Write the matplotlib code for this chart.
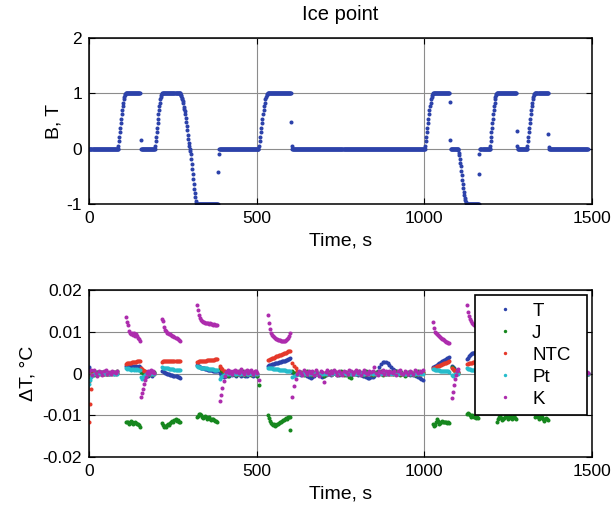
import numpy as np
import matplotlib
matplotlib.use('Agg')
import matplotlib.pyplot as plt

plt.rcParams['font.family'] = ['Liberation Sans', 'DejaVu Sans']
plt.rcParams['axes.unicode_minus'] = False

# ================= top panel: field B (T) =================
# flat plateaus: (start s, end s, level T), sampled every B_plateau_step s
B_plateaus = [(0, 86, 0), (110, 152, 1), (156, 196, 0), (219, 271, 1),
              (321, 385, -1), (388, 505, 0), (533, 602, 1), (606, 1001, 0),
              (1027, 1076, 1), (1079, 1100, 0), (1126, 1162, -1), (1166, 1195, 0),
              (1216, 1275, 1), (1278, 1305, 0), (1330, 1369, 1), (1372, 1488, 0)]
B_plateau_step = 1.5
ramp_up = [0.0, 0.05, 0.13, 0.21, 0.30, 0.38, 0.46, 0.54, 0.62, 0.70, 0.77,
           0.83, 0.89, 0.94, 0.97, 0.99]
ramp_down_full = [1.0, 0.99, 0.97, 0.95, 0.92, 0.89, 0.86, 0.82, 0.76, 0.72,
                  0.68, 0.62, 0.56, 0.48, 0.41, 0.33, 0.25, 0.17, 0.10, 0.05,
                  0.0, -0.04, -0.09, -0.18, -0.27, -0.37, -0.46, -0.55, -0.64,
                  -0.73, -0.81, -0.88, -0.94, -0.98]
ramp_down_half = [0.0, -0.03, -0.07, -0.12, -0.18, -0.25, -0.32, -0.40, -0.48,
                  -0.56, -0.64, -0.71, -0.78, -0.84, -0.89, -0.93, -0.96, -0.98]
# (start s, sampling s, values)
B_ramps = [(86, 1.5, ramp_up), (196, 1.4, ramp_up), (271, 1.5, ramp_down_full),
           (505, 1.75, ramp_up), (1001, 1.6, ramp_up), (1100, 1.5, ramp_down_half),
           (1195, 1.3, ramp_up), (1305, 1.55, ramp_up)]
B_single_t = [154, 386, 387, 603, 605, 1077, 1078, 1163, 1164, 1276, 1277, 1370, 1371]
B_single_v = [0.15, -0.42, -0.09, 0.48, 0.04, 0.84, 0.15, -0.45, -0.10, 0.32, 0.04, 0.27, 0.03]

# ================= bottom panel: dT (mK) per segment =================
seg_t0 = [0, 109, 156, 219, 323, 390, 533, 606, 1027, 1083, 1127, 1216, 1330, 1476]
seg_dt = [5, 3, 3, 3, 3, 4, 3, 5, 3, 3, 3, 3, 3, 4]

T_A = [1.6, 0.5, -0.3, 0.2, 0.4, -0.2, 0.1, 0.3, -0.1, 0.2, 0.0, 0.3, -0.2, 0.1, 0.2, -0.1, 0.3, 0.1]
J_A = [-1.0, -0.4, 0.2, -0.3, 0.1, 0.3, -0.2, 0.2, 0.4, 0.0, 0.3, -0.1, 0.2, 0.3, 0.1, 0.4, 0.2, 0.6]
NTC_A = [-1.8, -0.6, -0.2, 0.1, -0.1, 0.0, 0.2, -0.1, 0.1, 0.0, 0.1, -0.1, 0.0, 0.1, 0.0, 0.1, -0.1, 0.1]
Pt_A = [-2.6, -0.8, -0.3, 0.0, 0.2, -0.1, 0.1, 0.0, -0.2, 0.1, 0.0, 0.1, -0.1, 0.0, 0.1, 0.0, -0.1, 0.0]
K_A = [0.6, 0.9, -0.4, 0.8, 0.2, -0.5, 0.7, 0.3, -0.3, 0.5, 0.9, 0.0, 0.4, -0.2, 0.6, 0.3, 0.1, 0.5]

T_B = [1.8, 1.9, 1.7, 1.8, 1.6, 1.7, 1.8, 1.5, 1.7, 1.6, 1.8, 1.5, 1.6, 1.7, 1.5]
J_B = [-11.6, -11.5, -11.7, -12.0, -11.8, -11.4, -11.7, -12.1, -11.9, -11.5, -11.8, -12.2, -12.0, -12.4, -12.7]
NTC_B = [2.3, 2.4, 2.5, 2.5, 2.6, 2.6, 2.7, 2.7, 2.8, 2.8, 2.8, 2.9, 2.9, 2.9, 3.0]
Pt_B = [1.3, 1.1, 1.2, 1.0, 1.1, 0.9, 1.0, 1.1, 0.9, 1.0, 0.8, 1.0, 0.9, 0.8, 0.9]
K_B = [13.5, 12.4, 11.6, 10.2, 9.8, 9.5, 9.8, 9.3, 9.6, 9.1, 9.5, 8.9, 8.6, 8.3, 7.9]

T_C = [0.8, 0.6, 0.3, 0.5, 0.1, -0.3, 0.2, -0.5, 0.0, -0.2, 0.3, -0.6, -0.1, 0.2]
J_C = [0.3, 0.5, 0.2, -0.3, 0.1, 0.4, -0.2, 0.2, -0.4, 0.1, 0.3, -0.2, 0.0, 0.4]
NTC_C = [1.2, 1.0, 0.8, 0.6, 0.5, 0.4, 0.3, 0.2, 0.2, 0.1, 0.1, 0.0, 0.1, 0.0]
Pt_C = [-0.9, -1.2, -0.8, -0.5, -0.3, -0.2, -0.1, 0.0, 0.1, -0.1, 0.0, 0.1, 0.0, -0.1]
K_C = [-5.6, -4.6, -3.6, -2.5, -1.6, -0.8, 0.2, 0.6, -0.1, 0.5, 0.8, 0.3, 0.6, 0.1]

T_D = [0.6, 0.5, 0.3, 0.2, 0.1, 0.0, -0.1, -0.2, -0.3, -0.3, -0.4, -0.5, -0.5, -0.6, -0.7, -0.8, -0.9, -1.1]
J_D = [-11.8, -12.3, -12.8, -12.6, -12.9, -12.4, -12.1, -12.3, -11.8, -11.6, -11.4, -11.6, -11.2, -11.0, -11.3, -11.2, -11.5, -11.6]
NTC_D = [2.8, 2.9, 2.9, 3.0, 3.0, 3.0, 3.1, 3.0, 3.1, 3.1, 3.0, 3.1, 3.1, 3.0, 3.1, 3.1, 3.0, 3.1]
Pt_D = [1.5, 1.4, 1.4, 1.3, 1.3, 1.2, 1.2, 1.1, 1.1, 1.0, 1.0, 1.0, 0.9, 0.9, 0.9, 0.8, 0.8, 0.8]
K_D = [13.0, 12.6, 11.2, 10.5, 10.1, 9.8, 9.7, 9.5, 9.4, 9.2, 9.0, 8.9, 8.8, 8.6, 8.5, 8.3, 8.1, 7.9]

T_E = [2.0, 1.8, 1.7, 1.5, 1.4, 1.3, 1.2, 1.2, 1.1, 1.0, 1.0, 0.9, 0.9, 0.8, 0.8, 0.8, 0.7, 0.7, 0.7, 0.6, 0.6]
J_E = [-10.5, -10.1, -9.8, -9.7, -10.0, -10.3, -10.6, -10.4, -10.2, -10.5, -10.9, -10.7, -10.4, -10.8, -11.1, -11.0, -10.8, -11.2, -11.4, -11.3, -11.6]
NTC_E = [2.8, 2.8, 2.9, 2.9, 3.0, 3.0, 3.0, 3.1, 3.1, 3.1, 3.2, 3.2, 3.2, 3.2, 3.3, 3.3, 3.3, 3.3, 3.4, 3.4, 3.4]
Pt_E = [1.7, 1.6, 1.5, 1.5, 1.4, 1.4, 1.3, 1.3, 1.2, 1.2, 1.2, 1.1, 1.1, 1.1, 1.0, 1.0, 1.0, 0.9, 0.9, 0.9, 0.9]
K_E = [16.4, 15.2, 14.0, 13.2, 12.8, 12.5, 12.3, 12.4, 12.1, 12.2, 12.0, 12.1, 11.9, 12.0, 11.8, 11.9, 11.7, 11.8, 11.6, 11.7, 11.6]

T_F = [0.2, -0.3, -0.6, -0.8, -0.5, -0.7, -0.3, -0.6, -0.2, -0.4, 0.1, -0.3, -0.5, -0.2, 0.0, -0.4, -0.6, -0.3, -0.1, -0.5, -0.7, -0.4, -0.2, 0.1, -0.3, -0.6, -0.4, -0.2, -0.5]
J_F = [1.4, 0.9, 0.5, 0.2, -0.3, 0.1, -0.5, 0.2, -0.2, 0.4, -0.1, 0.3, -0.4, 0.0, 0.5, -0.2, 0.1, 0.6, -0.3, 0.2, -0.1, 0.4, 0.0, -0.4, 0.3, 0.1, -0.2, 0.4, -0.6]
NTC_F = [1.8, 1.4, 1.0, 0.7, 0.5, 0.3, 0.2, 0.1, 0.2, 0.0, 0.1, -0.1, 0.1, 0.0, 0.2, 0.0, -0.1, 0.1, 0.0, 0.1, -0.1, 0.0, 0.1, 0.0, -0.1, 0.1, 0.0, 0.1, 0.0]
Pt_F = [-1.2, -0.9, -0.6, -0.4, -0.2, -0.1, 0.0, 0.1, -0.1, 0.0, 0.1, 0.0, -0.1, 0.1, 0.0, 0.0, 0.1, -0.1, 0.0, 0.1, 0.0, -0.1, 0.0, 0.1, 0.0, -0.1, 0.0, 0.1, 0.0]
K_F = [-6.6, -5.2, -3.4, -1.8, -0.6, 0.4, 0.8, 0.2, 0.6, -0.2, 0.5, 0.9, 0.3, 0.7, 0.1, 0.6, 1.0, 0.4, -0.1, 0.5, 0.8, 0.2, 0.6, 0.9, 0.3, -0.2, 0.5, 0.7, 0.1]

T_G = [1.9, 2.0, 2.0, 2.1, 2.2, 2.3, 2.3, 2.4, 2.5, 2.5, 2.6, 2.7, 2.7, 2.8, 2.9, 3.0, 3.0, 3.1, 3.2, 3.3, 3.4, 3.5, 3.6]
J_G = [-10.0, -10.6, -11.4, -11.8, -12.1, -12.4, -12.2, -12.5, -12.3, -12.0, -12.2, -11.8, -11.6, -11.7, -11.3, -11.1, -11.2, -10.9, -10.7, -10.8, -10.5, -10.4, -10.3]
NTC_G = [3.2, 3.3, 3.5, 3.5, 3.6, 3.8, 3.8, 3.9, 4.1, 4.1, 4.2, 4.4, 4.4, 4.5, 4.6, 4.7, 4.9, 4.9, 5.0, 5.1, 5.3, 5.3, 5.5]
Pt_G = [1.4, 1.3, 1.3, 1.2, 1.2, 1.1, 1.1, 1.1, 1.0, 1.0, 1.0, 0.9, 0.9, 0.9, 0.8, 0.8, 0.8, 0.8, 0.7, 0.7, 0.7, 0.7, 0.6]
K_G = [14.0, 12.0, 10.6, 9.8, 9.3, 9.0, 8.7, 8.5, 8.3, 8.2, 8.1, 8.0, 8.0, 7.9, 7.8, 7.9, 7.8, 7.9, 8.0, 8.2, 8.5, 9.0, 9.8]

T_H = [0.4, 0.2, 0.0, -0.2, 0.1, -0.3, 0.0, -0.2, -0.4, -0.6,
       -0.9, -1.0, -0.8, -0.5, -0.2, 0.1, -0.3, -0.6, -0.8, -0.7,
       -0.4, -0.2, 0.0, -0.3, -0.1, 0.2, -0.2, 0.0, -0.4, -0.2,
       0.1, -0.1, -0.3, 0.0, -0.2, -0.4, -0.1, 0.1, -0.2, -0.3,
       -0.1, -0.3, -0.5, -0.7, -0.9, -1.0, -1.1, -0.9, -0.8, -0.6,
       -0.2, 0.6, 1.6, 2.3, 2.7, 2.8, 2.7, 2.5, 2.1, 1.6,
       1.1, 0.8, 0.5, 0.3, 0.1, -0.1, 0.0, -0.2, -0.3, -0.1,
       -0.3, -0.2, -0.4, -0.3, -0.6, -0.8, -1.0, -1.3, -1.6]
J_H = [0.6, 0.2, -0.1, 0.3, -0.2, 0.4, 0.1, -0.3, 0.2, 0.5,
       -0.1, 0.3, -0.4, 0.2, 0.6, 0.0, -0.2, 0.4, 0.1, -0.5,
       0.2, -0.1, 0.3, 0.5, -0.2, 0.1, 0.4, -0.3, 0.2, 0.6,
       0.0, -0.4, 0.3, 0.1, -0.9, -1.1, 0.2, 0.4, -0.2, 0.3,
       0.5, 0.1, -0.3, 0.2, 0.6, -0.1, 0.3, 0.0, -0.4, 0.2,
       0.4, -0.2, 0.1, 0.5, -0.3, 0.2, 0.0, 0.4, -0.1, 0.3,
       -0.2, 0.1, 0.5, 0.2, -0.3, 0.4, 0.0, -0.6, 0.2, 0.3,
       -0.1, 0.4, 0.1, -0.3, 0.2, 0.5, -0.2, 0.1, 0.3]
NTC_H = [2.6, 1.9, 1.2, 0.7, 0.4, 0.2, 0.1, 0.0, 0.1, -0.1,
         0.0, 0.1, -0.1, 0.0, 0.1, 0.0, -0.1, 0.1, 0.0, 0.1,
         -0.1, 0.0, 0.1, 0.0, -0.1, 0.1, 0.0, 0.1, -0.1, 0.0,
         0.1, 0.0, -0.1, 0.0, 0.1, 0.0, 0.1, -0.1, 0.0, 0.1,
         0.0, -0.1, 0.1, 0.0, 0.0, 0.1, -0.1, 0.0, 0.1, 0.0,
         -0.1, 0.0, 0.1, 0.0, 0.1, -0.1, 0.0, 0.1, 0.0, -0.1,
         0.0, 0.1, 0.0, -0.1, 0.1, 0.0, 0.0, 0.1, -0.1, 0.0,
         0.1, 0.0, -0.1, 0.0, 0.1, 0.0, -0.1, 0.0, 0.1]
Pt_H = [-0.9, -0.6, -0.4, -0.2, -0.1, 0.0, 0.1, -0.1, 0.0, 0.1,
        0.0, -0.1, 0.1, 0.0, 0.2, -0.1, 0.0, 0.1, -0.2, 0.0,
        0.1, 0.0, -0.1, 0.2, 0.0, 0.1, -0.1, 0.0, 0.1, 0.0,
        -0.1, 0.1, 0.0, 0.2, 0.0, -0.1, 0.1, 0.0, -0.2, 0.1,
        0.0, 0.1, -0.1, 0.0, 0.2, 0.0, -0.1, 0.1, 0.0, 0.1,
        0.0, -0.1, 0.1, 0.0, 0.2, 0.1, 0.0, -0.1, 0.1, 0.0,
        0.1, 0.0, -0.1, 0.0, 0.1, 0.2, 0.0, -0.1, 0.0, 0.1,
        0.0, 0.1, -0.1, 0.0, 0.1, 0.0, 0.2, 0.0, -0.1]
K_H = [-5.6, -3.0, -1.2, -0.2, 0.6, 0.2, -0.4, 0.8, 0.3, -0.2,
       0.7, 0.1, 0.5, -0.3, 0.9, 0.2, -0.5, 0.6, 0.4, -2.0,
       0.3, 0.8, -0.2, 0.5, 0.1, 0.9, 0.4, -0.3, 0.6, 0.2,
       -0.4, 0.7, 0.3, 0.0, 0.8, 0.5, -0.2, 0.4, 0.9, 0.1,
       0.6, -0.3, 0.4, 0.8, 0.2, -0.1, 0.7, 0.3, 0.5, 1.5,
       0.2, -0.4, 0.6, 0.3, 0.8, 0.0, 0.5, -0.2, 0.7, 0.4,
       0.1, 0.6, -0.3, 0.5, 0.9, 0.2, -0.1, 0.7, 0.4, 0.0,
       0.6, 0.3, -0.2, 0.8, 0.5, 0.1, 0.7, 0.4, 0.9]

T_I = [1.5, 1.6, 1.8, 1.9, 2.1, 2.3, 2.4, 2.6, 2.7, 2.9, 3.0, 3.2, 3.3, 3.5, 3.6, 3.8, 4.0]
J_I = [-12.0, -12.6, -12.4, -11.6, -10.8, -11.4, -12.0, -11.9, -11.7, -11.4, -11.5, -11.7, -11.6, -11.5, -11.8, -11.7, -11.8]
NTC_I = [1.2, 1.3, 1.4, 1.6, 1.7, 1.8, 1.9, 2.0, 2.1, 2.2, 2.3, 2.4, 2.5, 2.6, 2.7, 2.8, 2.9]
Pt_I = [1.0, 1.0, 0.9, 0.9, 0.8, 0.8, 0.8, 0.7, 0.7, 0.7, 0.6, 0.6, 0.6, 0.5, 0.5, 0.5, 0.4]
K_I = [12.4, 11.0, 10.0, 9.6, 9.4, 9.2, 8.9, 8.7, 8.5, 8.3, 8.2, 8.0, 7.8, 7.6, 7.5, 7.4, 7.2]

T_J = [1.8, 1.6, 1.2, 0.9, 0.6, 0.4, 0.3]
J_J = [1.6, 1.2, 0.8, 0.5, 0.3, 0.2, 0.1]
NTC_J = [1.2, 1.0, 0.8, 0.6, 0.5, 0.4, 0.3]
Pt_J = [-0.4, -0.6, -0.3, -0.1, 0.0, 0.1, 0.0]
K_J = [-5.8, -4.5, -2.8, -1.2, -0.3, 0.6, 1.0]

T_K = [3.4, 3.8, 4.1, 4.4, 4.6, 4.8, 4.9, 5.0, 5.1, 5.2, 5.2, 5.3]
J_K = [-9.8, -9.4, -9.6, -10.0, -10.3, -10.0, -10.2, -10.5, -10.3, -10.6, -10.4, -10.7]
NTC_K = [2.2, 2.3, 2.4, 2.5, 2.6, 2.6, 2.7, 2.7, 2.8, 2.8, 2.9, 2.9]
Pt_K = [1.2, 1.1, 1.0, 1.0, 0.9, 0.9, 0.8, 0.8, 0.8, 0.7, 0.7, 0.7]
K_K = [16.4, 14.8, 13.8, 13.0, 12.5, 12.1, 11.9, 11.7, 11.6, 11.5, 11.4, 11.3]

# segments under the legend: only the visible J readings
J_L = [-11.6, -11.0, -10.4, -10.2, -10.6, -11.2, -11.0, -10.6, -10.3, -10.0, -10.5, -10.8, -10.4, -10.1, -10.6, -10.9, -10.5, -10.2, -10.7, -11.0]
J_M = [-10.4, -10.0, -9.8, -10.3, -10.8, -10.6, -10.2, -10.5, -11.0, -11.4, -11.0, -10.6, -10.9, -11.2]

T_N = [0.1, -0.2, 0.0, 0.2]
J_N = [-0.2, 0.3, 0.1, -0.1]
NTC_N = [0.0, 0.1, 0.0, -0.1]
Pt_N = [0.1, 0.0, -0.1, 0.0]
K_N = [0.3, -0.2, 0.4, 0.1]

# isolated readings (t s, value mK)
NTC_out_t, NTC_out_v = [1, 2, 5], [-11.6, -7.3, -3.8]
Pt_out_t, Pt_out_v = [2], [-1.6]
J_out_t, J_out_v = [507, 598], [-2.8, -13.6]
K_out_t, K_out_v = [506], [-1.6]
T_out_t, T_out_v = [], []

series_names = ['T', 'J', 'NTC', 'Pt', 'K']
series_colors = ['#2c42aa', '#16871e', '#e5392b', '#26bccb', '#ad2cad']
series_segments = {
    'T': [T_A, T_B, T_C, T_D, T_E, T_F, T_G, T_H, T_I, T_J, T_K, [], [], T_N],
    'J': [J_A, J_B, J_C, J_D, J_E, J_F, J_G, J_H, J_I, J_J, J_K, J_L, J_M, J_N],
    'NTC': [NTC_A, NTC_B, NTC_C, NTC_D, NTC_E, NTC_F, NTC_G, NTC_H, NTC_I, NTC_J, NTC_K, [], [], NTC_N],
    'Pt': [Pt_A, Pt_B, Pt_C, Pt_D, Pt_E, Pt_F, Pt_G, Pt_H, Pt_I, Pt_J, Pt_K, [], [], Pt_N],
    'K': [K_A, K_B, K_C, K_D, K_E, K_F, K_G, K_H, K_I, K_J, K_K, [], [], K_N],
}
series_out = {'T': (T_out_t, T_out_v), 'J': (J_out_t, J_out_v),
              'NTC': (NTC_out_t, NTC_out_v), 'Pt': (Pt_out_t, Pt_out_v),
              'K': (K_out_t, K_out_v)}

# ================= build top series =================
bt, bv = [], []
for (t0, t1, lev) in B_plateaus:
    tt = np.arange(t0, t1 + 1e-9, B_plateau_step)
    bt.append(tt)
    bv.append(np.full(len(tt), float(lev)))
for (t0, dt, vals) in B_ramps:
    bt.append(t0 + dt * np.arange(len(vals)))
    bv.append(np.asarray(vals, float))
bt.append(np.asarray(B_single_t, float))
bv.append(np.asarray(B_single_v, float))
bt = np.concatenate(bt)
bv = np.concatenate(bv)

# ================= figure =================
fig = plt.figure(figsize=(6.12, 5.08), dpi=100)
ax1 = fig.add_axes([0.1454, 0.5984, 0.8219, 0.3268])
ax2 = fig.add_axes([0.1454, 0.1004, 0.8219, 0.3287])

ms = 2.9
tick_fs = 12.5
lab_fs = 14

def style(ax):
    ax.grid(True, color='#8c8c8c', linewidth=0.8)
    ax.set_axisbelow(True)
    for sp in ax.spines.values():
        sp.set_linewidth(1.1)
        sp.set_color('black')
    ax.tick_params(direction='in', length=4, width=0.8, top=True, right=True,
                   labelsize=tick_fs, pad=5)
    ax.set_xlim(0, 1500)
    ax.set_xticks([0, 500, 1000, 1500])
    ax.set_xticklabels(['0', '500', '1000', '1500'])
    ax.set_xlabel('Time, s', fontsize=lab_fs, labelpad=5)

ax1.plot(bt, bv, linestyle='none', marker='o', ms=ms, mew=0, color=series_colors[0])
style(ax1)
ax1.set_ylim(-1, 2)
ax1.set_yticks([-1, 0, 1, 2])
ax1.set_yticklabels(['-1', '0', '1', '2'])
ax1.set_ylabel('B, T', fontsize=lab_fs, labelpad=3)
ax1.set_title('Ice point', fontsize=14.5, pad=13)

for name, col in zip(series_names, series_colors):
    tt_all, vv_all = [], []
    for t0, dt, vals in zip(seg_t0, seg_dt, series_segments[name]):
        if len(vals) == 0:
            continue
        tt_all.append(t0 + dt * np.arange(len(vals)))
        vv_all.append(np.asarray(vals, float))
    ot, ov = series_out[name]
    tt_all.append(np.asarray(ot, float))
    vv_all.append(np.asarray(ov, float))
    tt = np.concatenate(tt_all)
    vv = np.concatenate(vv_all) / 1000.0
    ax2.plot(tt, vv, linestyle='none', marker='o', ms=ms, mew=0, color=col, label=name)

style(ax2)
ax2.set_ylim(-0.02, 0.02)
ax2.set_yticks([-0.02, -0.01, 0, 0.01, 0.02])
ax2.set_yticklabels(['-0.02', '-0.01', '0', '0.01', '0.02'])
ax2.set_ylabel('\u0394T, \u00b0C', fontsize=lab_fs, labelpad=4)

leg = ax2.legend(loc='upper left', bbox_to_anchor=(0.7674, 0.0, 0.2226, 0.970),
                 mode='expand', borderaxespad=0.0,
                 fontsize=13.5, frameon=True, fancybox=False,
                 edgecolor='black', framealpha=1, borderpad=0.4, handlelength=2.45,
                 handletextpad=0.2, labelspacing=0.26, markerscale=0.85)
leg.get_frame().set_linewidth(1.2)

fig.savefig('out.png', dpi=100)
